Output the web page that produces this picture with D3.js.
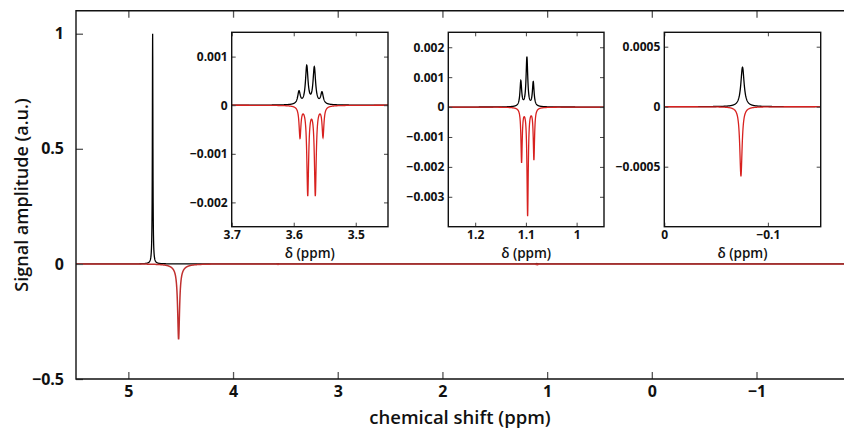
<!DOCTYPE html>
<html><head><meta charset="utf-8">
<script src="https://cdn.jsdelivr.net/npm/d3@7"></script>
<style>
html,body{margin:0;padding:0;background:#fff;}
svg{display:block;font-family:"Open Sans",sans-serif;}
</style></head>
<body><svg id="c" width="844" height="430"></svg>
<script>
// ---- data ----
// black spectrum: peak centres (ppm), amplitudes (a.u.), FWHM (ppm)
const blackPos   = [4.768, 3.5915, 3.579, 3.5668, 3.5544, 1.110, 1.098, 1.0855, -0.0755];
const blackAmp   = [1.0, 0.00026, 0.00078, 0.00075, 0.00024, 0.00084, 0.00164, 0.00081, 0.00033];
const blackWidth = [0.006, 0.005, 0.005, 0.005, 0.005, 0.004, 0.004, 0.004, 0.0038];
// red spectrum
const redPos   = [4.52, 4.52, 3.5899, 3.5774, 3.5652, 3.5528, 1.1085, 1.0966, 1.0842, -0.074];
const redAmp   = [-0.31, -0.018, -0.00064, -0.00182, -0.00182, -0.00062, -0.0018, -0.0036, -0.00172, -0.00058];
const redWidth = [0.022, 0.12, 0.0035, 0.0035, 0.0035, 0.0035, 0.003, 0.003, 0.003, 0.0027];

const mainXDomain = [5.5, -1.85];
const mainYDomain = [-0.5, 1.1];
const mainXTicks = [5, 4, 3, 2, 1, 0, -1];
const mainYTicks = [1, 0.5, 0, -0.5];

const insetXDomains = [[3.7, 3.448], [1.253, 0.946], [0, -0.151]];
const insetYDomains = [[-0.0025, 0.0015], [-0.004, 0.0025], [-0.001, 0.00062]];
const insetXTicks = [[3.7, 3.6, 3.5], [1.2, 1.1, 1], [0, -0.1]];
const insetYTicks = [[0.001, 0, -0.001, -0.002], [0.002, 0.001, 0, -0.001, -0.002, -0.003], [0.0005, 0, -0.0005]];

const xTitle = "chemical shift (ppm)";
const yTitle = "Signal amplitude (a.u.)";
const insetXTitle = "δ (ppm)";

// ---- layout ----
const svg = d3.select("#c");
const M = {left: 76, top: 10.7, bottom: 379, right: 845.5};
const insetBoxes = [[231.7, 388], [448.3, 604], [664.3, 820.7]];
const insetTop = 32.3, insetBottom = 226.7;
const BLACK = "#000", RED = "#d8211f";
const CUT = 0.3; // line shapes are evaluated locally (baseline-corrected spectra)

function spectrum(pos, amp, wid, x) {
  let s = 0;
  for (let i = 0; i < pos.length; i++) {
    const h = wid[i] / 2, d = x - pos[i];
    if (Math.abs(d) > CUT) continue;
    s += amp[i] * h * h / (d * d + h * h);
  }
  return s;
}
function samples(lo, hi, step, pos, amp, wid) {
  const xs = d3.range(lo, hi + step / 2, step).concat(pos).sort((a, b) => a - b)
    .filter(v => v >= lo && v <= hi);
  return xs.map(v => [v, spectrum(pos, amp, wid, v)]);
}
const fmt = d => d === 0 ? "0" : (d < 0 ? "\u2212" : "") + String(+Math.abs(d).toPrecision(6));

// ---- main plot ----
const x = d3.scaleLinear().domain(mainXDomain).range([M.left, M.right]);
const y = d3.scaleLinear().domain(mainYDomain).range([M.bottom, M.top]);

svg.append("clipPath").attr("id", "mclip").append("rect")
  .attr("x", M.left).attr("y", M.top).attr("width", M.right - M.left).attr("height", M.bottom - M.top);

const line = d3.line().x(d => x(d[0])).y(d => y(d[1]));
const bMain = samples(mainXDomain[1], mainXDomain[0], 0.001, blackPos, blackAmp, blackWidth);
const rMain = samples(mainXDomain[1], mainXDomain[0], 0.001, redPos, redAmp, redWidth);
const gm = svg.append("g").attr("clip-path", "url(#mclip)");
gm.append("path").attr("d", line(bMain)).attr("fill", "none").attr("stroke", BLACK).attr("stroke-width", 1.3);
gm.append("path").attr("d", line(rMain)).attr("fill", "none").attr("stroke", "#c0302f").attr("stroke-width", 1.5);

// axes (inner ticks)
const axB = svg.append("g").attr("transform", `translate(0,${M.bottom})`)
  .call(d3.axisBottom(x).tickValues(mainXTicks).tickSize(-7).tickPadding(7).tickFormat(fmt));
const axT = svg.append("g").attr("transform", `translate(0,${M.top})`)
  .call(d3.axisTop(x).tickValues(mainXTicks).tickSize(-7).tickFormat(""));
const axL = svg.append("g").attr("transform", `translate(${M.left},0)`)
  .call(d3.axisLeft(y).tickValues(mainYTicks).tickSize(-7).tickPadding(12).tickFormat(fmt));
[axB, axT, axL].forEach(a => {
  a.select(".domain").remove();
  a.selectAll(".tick line").attr("stroke", "#555").attr("stroke-width", 1.3);
  a.selectAll("text").attr("font-size", 16).attr("font-weight", 700).attr("fill", "#111")
    .attr("font-family", "'Open Sans',sans-serif");
});
// frame lines
svg.append("path").attr("d", `M${M.right},${M.top}H${M.left}V${M.bottom}H${M.right}`)
  .attr("fill", "none").attr("stroke", "#111").attr("stroke-width", 1.4);

svg.append("text").attr("x", 460).attr("y", 424).attr("text-anchor", "middle")
  .attr("font-size", 18.5).attr("font-weight", 600).attr("fill", "#111").text(xTitle);
svg.append("text").attr("transform", "translate(28,195) rotate(-90)").attr("text-anchor", "middle")
  .attr("font-size", 18).attr("font-weight", 600).attr("fill", "#111").text(yTitle);

// ---- insets ----
insetBoxes.forEach((box, i) => {
  const xi = d3.scaleLinear().domain(insetXDomains[i]).range(box);
  const yi = d3.scaleLinear().domain(insetYDomains[i]).range([insetBottom, insetTop]);
  const g = svg.append("g");
  g.append("rect").attr("x", box[0]).attr("y", insetTop).attr("width", box[1] - box[0])
    .attr("height", insetBottom - insetTop).attr("fill", "#fff");
  const cid = "ic" + i;
  g.append("clipPath").attr("id", cid).append("rect").attr("x", box[0]).attr("y", insetTop)
    .attr("width", box[1] - box[0]).attr("height", insetBottom - insetTop);
  const lo = Math.min(...insetXDomains[i]), hi = Math.max(...insetXDomains[i]);
  const li = d3.line().x(d => xi(d[0])).y(d => yi(d[1]));
  const gc = g.append("g").attr("clip-path", `url(#${cid})`);
  gc.append("path").attr("d", li(samples(lo, hi, 0.0002, blackPos, blackAmp, blackWidth)))
    .attr("fill", "none").attr("stroke", BLACK).attr("stroke-width", 1.3);
  gc.append("path").attr("d", li(samples(lo, hi, 0.0002, redPos, redAmp, redWidth)))
    .attr("fill", "none").attr("stroke", RED).attr("stroke-width", 1.3);

  const aB = g.append("g").attr("transform", `translate(0,${insetBottom})`)
    .call(d3.axisBottom(xi).tickValues(insetXTicks[i]).tickSize(-4).tickPadding(4).tickFormat(fmt));
  const aT = g.append("g").attr("transform", `translate(0,${insetTop})`)
    .call(d3.axisTop(xi).tickValues(insetXTicks[i]).tickSize(-4).tickFormat(""));
  const aL = g.append("g").attr("transform", `translate(${box[0]},0)`)
    .call(d3.axisLeft(yi).tickValues(insetYTicks[i]).tickSize(-4).tickPadding(4).tickFormat(fmt));
  const aR = g.append("g").attr("transform", `translate(${box[1]},0)`)
    .call(d3.axisRight(yi).tickValues(insetYTicks[i]).tickSize(-4).tickFormat(""));
  [aB, aT, aL, aR].forEach(a => {
    a.select(".domain").remove();
    a.selectAll(".tick line").attr("stroke", "#444").attr("stroke-width", 1);
    a.selectAll("text").attr("font-size", 12).attr("font-weight", 700).attr("fill", "#111")
      .attr("font-family", "'Open Sans',sans-serif");
  });
  g.append("rect").attr("x", box[0]).attr("y", insetTop).attr("width", box[1] - box[0])
    .attr("height", insetBottom - insetTop).attr("fill", "none").attr("stroke", "#111").attr("stroke-width", 1.4);
  g.append("text").attr("x", (box[0] + box[1]) / 2).attr("y", 258).attr("text-anchor", "middle")
    .attr("font-size", 13.5).attr("font-weight", 600).attr("fill", "#111").text(insetXTitle);
});
</script></body></html>
